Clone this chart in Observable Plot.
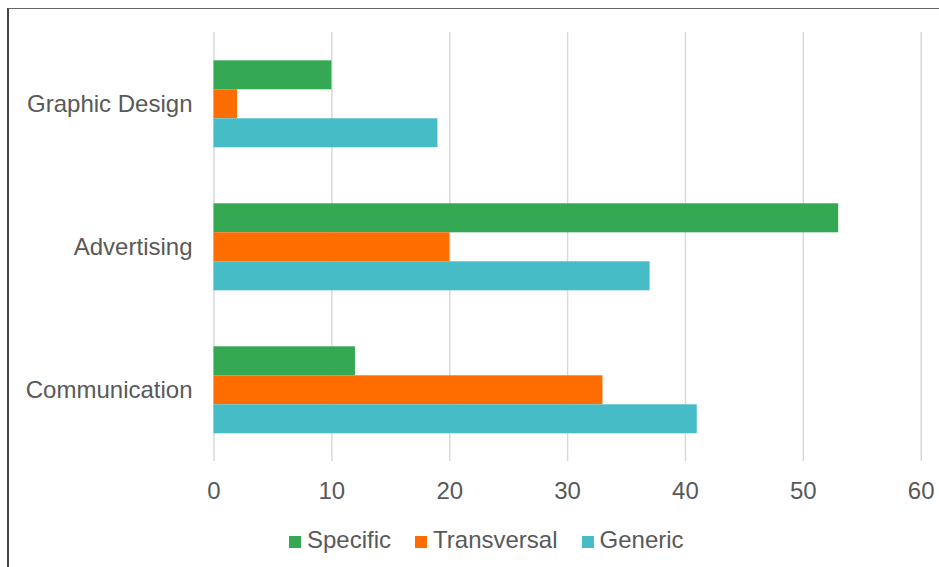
<!DOCTYPE html>
<html>
<head>
<meta charset="utf-8">
<script src="https://cdn.jsdelivr.net/npm/d3@7"></script>
<script src="https://cdn.jsdelivr.net/npm/@observablehq/plot@0.6"></script>
<style>
  html, body { margin: 0; padding: 0; background: #fff; }
  body { width: 939px; height: 567px; position: relative; overflow: hidden;
         font-family: "Liberation Sans", Arial, sans-serif; color: #595959; }
  #frame { position: absolute; left: 7px; top: 8px; width: 1000px; height: 600px;
           border-left: 2px solid #444; border-top: 1.5px solid #666; pointer-events: none; }
  #chart { position: absolute; left: 0; top: 0; }
  #legend { position: absolute; left: 289px; top: 526px; height: 28px;
            display: flex; align-items: center; gap: 24px; font-size: 24px; color: #595959; }
  .item { display: flex; align-items: center; gap: 6px; }
  .sw { width: 12px; height: 12px; display: inline-block; margin-top: 3px; }
</style>
</head>
<body>
<div id="chart"></div>
<div id="legend"></div>
<div id="frame"></div>
<script>
// Programme areas and the three kinds of competence counted for each
const categories = ["Graphic Design", "Advertising", "Communication"];
const seriesNames = ["Specific", "Transversal", "Generic"];
const specific = [10, 53, 12];
const transversal = [2, 20, 33];
const generic = [19, 37, 41];
const seriesColors = ["#34A853", "#FF6D01", "#46BDC6"];
const xTicks = [0, 10, 20, 30, 40, 50, 60];

const seriesValues = [specific, transversal, generic];
const data = categories.flatMap((category, i) =>
  seriesNames.map((series, j) => ({category, series, value: seriesValues[j][i]}))
);

const chart = Plot.plot({
  width: 939,
  height: 520,
  marginLeft: 213.5,
  marginRight: 18.3,
  marginTop: 31.7,
  marginBottom: 59,
  style: {fontSize: "24px", fontFamily: "'Liberation Sans', Arial, sans-serif", color: "#595959", background: "transparent"},
  x: {domain: [0, 60], ticks: xTicks, tickSize: 0, tickPadding: 20.5, label: null},
  y: {domain: seriesNames, axis: null, paddingInner: 0, paddingOuter: 0.91},
  fy: {domain: categories, padding: 0, axis: "left", label: null, tickSize: 0, tickPadding: 21.5},
  color: {domain: seriesNames, range: seriesColors},
  marks: [
    Plot.gridX({ticks: xTicks, stroke: "#d9d9d9", strokeOpacity: 1, strokeWidth: 1.5}),
    Plot.barX(data, {x: "value", y: "series", fy: "category", fill: "series"})
  ]
});
document.getElementById("chart").appendChild(chart);

// Legend row beneath the plot
const legend = d3.select("#legend");
seriesNames.forEach((name, i) => {
  const item = legend.append("div").attr("class", "item");
  item.append("span").attr("class", "sw").style("background", seriesColors[i]);
  item.append("span").text(name);
});
</script>
</body>
</html>
